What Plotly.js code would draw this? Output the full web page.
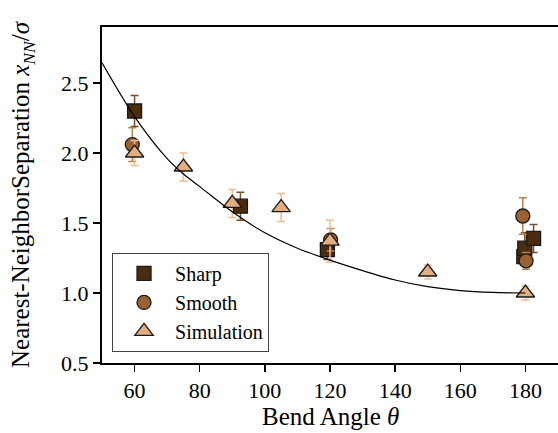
<!DOCTYPE html>
<html>
<head>
<meta charset="utf-8">
<script src="https://cdn.plot.ly/plotly-3.0.1.min.js"></script>
<style>html,body{margin:0;padding:0;background:#fff;}#chart{width:558px;height:433px;}</style>
</head>
<body>
<div id="chart"></div>
<script>
// Sharp (squares)
const sharpTheta = [60, 92.5, 119.2, 179.5, 179.8, 182.5];
const sharpVal   = [2.30, 1.62, 1.31, 1.26, 1.32, 1.39];
const sharpErr   = [0.11, 0.10, 0.07, 0.06, 0.11, 0.10];
// Smooth (circles)
const smoothTheta = [59.3, 120.2, 179.2, 180.2];
const smoothVal   = [2.06, 1.38, 1.55, 1.23];
const smoothErr   = [0.12, 0.08, 0.13, 0.06];
// Simulation (triangles)
const simTheta = [60, 75, 90, 105, 120, 150, 180];
const simVal   = [2.00, 1.90, 1.64, 1.61, 1.37, 1.15, 1.00];
const simErr   = [0.09, 0.10, 0.10, 0.10, 0.15, 0.05, 0.05];
// Fit curve
const fitTheta = [50, 60, 70, 75, 80, 90, 100, 110, 120, 130, 140, 150, 160, 170, 180];
const fitVal   = [2.645, 2.26, 1.96, 1.85, 1.76, 1.58, 1.43, 1.32, 1.235, 1.16, 1.093, 1.045, 1.017, 1.004, 1.0];
// Tick labels
const xTicks = [60, 80, 100, 120, 140, 160, 180];
const yTicks = [0.5, 1.0, 1.5, 2.0, 2.5];

const FONT = "Liberation Serif";

function errTrace(name, x, y, err, fill, errColor, symbol, size) {
  return {
    type: 'scatter', mode: 'markers', name: name, x: x, y: y,
    marker: {symbol: symbol, size: size, color: fill, line: {color: '#1a1a1a', width: 1.3}},
    error_y: {type: 'data', array: err, visible: true, color: errColor, thickness: 1.5, width: 4},
    cliponaxis: false
  };
}

const data = [
  errTrace('Sharp', sharpTheta, sharpVal, sharpErr, '#4a2c0f', '#7a4e28', 'square', 14),
  errTrace('Smooth', smoothTheta, smoothVal, smoothErr, '#9a6232', '#b8824e', 'circle', 14),
  errTrace('Simulation', simTheta, simVal, simErr, '#e2ad80', '#ebbd94', 'triangle-up', 16),
  {type: 'scatter', mode: 'lines', x: fitTheta, y: fitVal, showlegend: false,
   line: {color: '#000', width: 1.2, shape: 'spline', smoothing: 0.8}}
];

const layout = {
  width: 558, height: 433,
  margin: {l: 102, r: 0, t: 27, b: 70},
  paper_bgcolor: '#fff', plot_bgcolor: '#fff',
  font: {family: FONT, size: 22, color: '#000'},
  showlegend: true,
  legend: {
    x: 0.022, y: 0.033, xanchor: 'left', yanchor: 'bottom',
    bgcolor: 'rgba(255,255,255,0.85)', bordercolor: '#444', borderwidth: 1,
    font: {family: FONT, size: 20, color: '#000'},
    itemwidth: 52,
    tracegroupgap: 0
  },
  annotations: [{
    text: 'Bend Angle <i>θ</i>', xref: 'paper', yref: 'paper', x: 0.5, y: 0,
    xanchor: 'center', yanchor: 'middle', yshift: -53, showarrow: false,
    font: {family: FONT, size: 25, color: '#000'}
  }],
  xaxis: {
    range: [50, 190], tickvals: xTicks, ticktext: xTicks.map(String),
    showgrid: false, zeroline: false,
    showline: true, linecolor: '#000', linewidth: 2, mirror: true,
    ticks: 'outside', ticklen: 7, tickwidth: 1.3, tickcolor: '#000',
    tickfont: {family: FONT, size: 22, color: '#000'}
  },
  yaxis: {
    range: [0.5, 2.9], tickvals: yTicks, ticktext: yTicks.map(v => v.toFixed(1)),
    showgrid: false, zeroline: false,
    showline: true, linecolor: '#000', linewidth: 2, mirror: true,
    ticks: 'outside', ticklen: 7, tickwidth: 1.3, tickcolor: '#000',
    tickfont: {family: FONT, size: 22, color: '#000'},
    title: {text: 'Nearest-NeighborSeparation <i>x</i><sub><i>NN</i></sub>/<i>σ</i>', font: {family: FONT, size: 25}, standoff: 24}
  }
};

Plotly.newPlot('chart', data, layout, {displayModeBar: false, staticPlot: true});
</script>
</body>
</html>
